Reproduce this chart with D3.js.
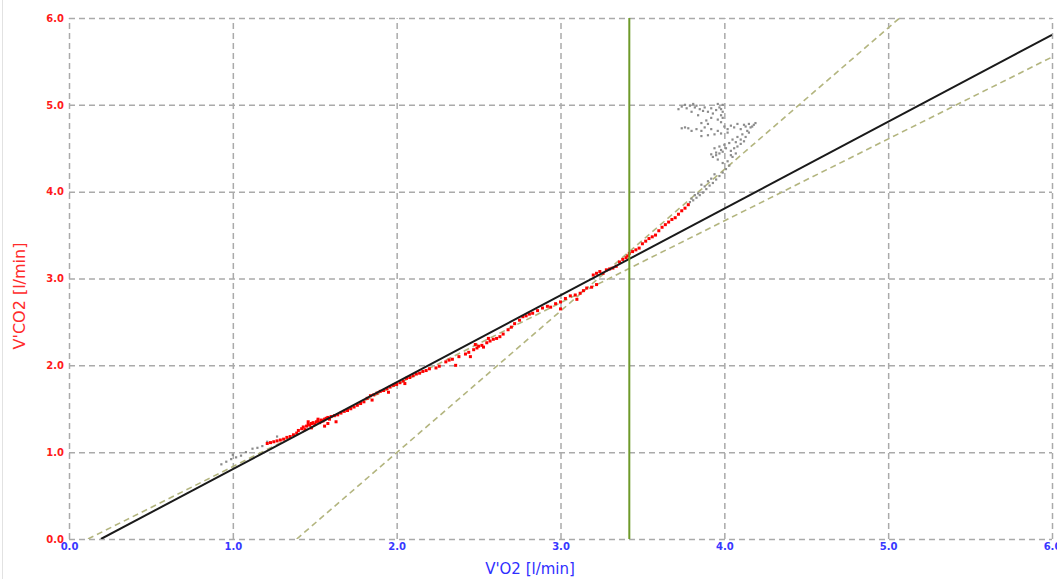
<!DOCTYPE html>
<html>
<head>
<meta charset="utf-8">
<script src="https://cdn.jsdelivr.net/npm/d3@7/dist/d3.min.js"></script>
<style>
  html, body { margin: 0; padding: 0; background: #fff; }
  svg { display: block; }
</style>
</head>
<body>
<svg id="chart" width="1057" height="579"></svg>
<script>
// ---------- DATA ----------
const xTicks = [0, 1, 2, 3, 4, 5, 6];
const yTicks = [0, 1, 2, 3, 4, 5, 6];
const xLabel = "V'O2 [l/min]";
const yLabel = "V'CO2 [l/min]";

// measured points inside the selected range (red)
const redPoints = [
  [1.21,1.10],[1.23,1.11],[1.25,1.12],[1.27,1.13],[1.29,1.14],[1.31,1.15],[1.33,1.17],[1.35,1.18],
  [1.37,1.20],[1.39,1.22],[1.40,1.25],[1.42,1.27],[1.43,1.29],[1.44,1.26],[1.45,1.30],[1.46,1.32],
  [1.47,1.31],[1.48,1.33],[1.49,1.34],[1.50,1.32],[1.51,1.35],[1.52,1.36],[1.53,1.34],[1.54,1.37],
  [1.55,1.36],[1.56,1.38],[1.57,1.39],[1.58,1.40],[1.59,1.38],[1.60,1.41],[1.62,1.42],[1.64,1.43],
  [1.66,1.45],[1.63,1.35],[1.56,1.30],[1.48,1.28],[1.46,1.35],[1.52,1.38],[1.58,1.33],
  [1.68,1.47],[1.70,1.48],[1.72,1.50],[1.74,1.52],[1.76,1.54],[1.78,1.56],[1.80,1.58],[1.82,1.62],
  [1.84,1.65],[1.86,1.66],[1.88,1.68],[1.90,1.70],[1.92,1.71],[1.94,1.73],[1.96,1.75],[1.98,1.77],
  [2.00,1.78],[2.02,1.80],[2.04,1.82],[2.06,1.85],[2.08,1.86],[2.10,1.88],[2.12,1.90],[1.85,1.60],
  [1.95,1.69],[2.05,1.79],
  [2.14,1.91],[2.16,1.93],[2.18,1.94],[2.20,1.96],[2.24,1.97],[2.26,1.99],[2.30,2.04],[2.32,2.06],
  [2.34,2.07],[2.38,2.10],[2.42,2.13],[2.44,2.15],[2.47,2.18],[2.49,2.20],[2.50,2.22],[2.52,2.23],
  [2.53,2.21],[2.55,2.26],[2.57,2.28],[2.59,2.30],[2.61,2.31],[2.63,2.33],[2.65,2.36],[2.45,2.10],
  [2.36,2.00],[2.48,2.24],[2.56,2.31],
  [2.68,2.41],[2.70,2.44],[2.72,2.48],[2.75,2.52],[2.77,2.56],[2.79,2.57],[2.81,2.59],[2.83,2.60],
  [2.86,2.63],[2.89,2.66],[2.92,2.68],[2.94,2.67],[2.97,2.71],[3.00,2.73],[3.03,2.77],[3.06,2.80],
  [3.09,2.81],[3.12,2.83],[3.14,2.86],[3.16,2.89],[3.19,2.90],[3.22,2.93],[3.00,2.65],[3.10,2.76],
  [3.20,3.04],[3.22,3.06],[3.24,3.08],[3.26,3.06],[3.28,3.10],[3.30,3.11],[3.32,3.12],[3.34,3.14],
  [3.36,3.19],[3.38,3.22],[3.40,3.24],[3.41,3.26],[3.42,3.29],[3.44,3.31],[3.46,3.33],[3.48,3.35],
  [3.50,3.40],[3.52,3.43],[3.54,3.46],[3.56,3.48],[3.58,3.50],[3.60,3.55],[3.62,3.59],[3.64,3.62],
  [3.66,3.65],[3.68,3.68],[3.70,3.70],[3.72,3.74],[3.74,3.78],[3.76,3.81],[3.78,3.85]
];

// measured points outside the selected range (gray)
const grayPoints = [
  [0.93,0.86],[0.96,0.89],[0.99,0.92],[1.02,0.94],[1.05,0.96],[1.08,1.00],[1.12,1.04],[1.15,1.05],
  [1.18,1.07],[1.21,1.12],[1.27,1.18],[1.00,0.97],
  [3.79,3.88],[3.81,3.90],[3.83,3.93],[3.85,3.96],[3.87,3.99],[3.89,4.03],[3.91,4.07],[3.93,4.10],
  [3.95,4.14],[3.97,4.18],[3.99,4.22],[4.01,4.26],[4.03,4.30],[3.86,4.08],[3.90,4.12],[3.94,4.20],
  [3.92,4.15],[3.88,4.06],[3.84,3.98],[3.82,3.96],[3.80,3.92],
  [3.93,4.40],[3.95,4.42],[3.97,4.44],[3.99,4.46],[4.04,4.47],[4.06,4.50],[4.08,4.52],[4.10,4.55],
  [4.12,4.58],[3.94,4.50],[3.97,4.52],[4.00,4.54],[4.05,4.60],[4.08,4.63],[4.11,4.66],[3.86,4.64],
  [3.90,4.65],[3.94,4.66],[3.98,4.67],[4.02,4.68],[4.14,4.70],[4.16,4.74],[4.18,4.77],[4.19,4.79],
  [4.12,4.77],[4.08,4.78],[4.04,4.76],[4.00,4.75],[3.86,4.70],[3.88,4.74],[3.90,4.78],[3.76,4.74],
  [3.78,4.73],[3.76,5.00],[3.79,4.99],[3.82,4.97],[3.85,4.95],[3.87,4.93],[3.90,4.92],[3.93,4.90],
  [3.95,4.94],[3.97,4.97],[3.99,5.00],[3.98,4.88],[3.99,4.92],[3.80,4.92],[3.84,4.88],[3.72,4.95],
  [3.74,4.98],[3.77,4.96],[3.81,5.01],[3.83,4.99],[3.88,4.97],[3.92,4.96],[3.96,5.01],[3.98,4.95],
  [3.99,4.85],[3.98,4.80],[3.96,4.83],[3.92,4.85],[3.89,4.82],[3.86,4.79],[3.83,4.72],[3.80,4.70],
  [3.74,4.73],[3.92,4.72],[3.96,4.70],[4.02,4.72],[4.06,4.74],[4.10,4.72],[4.13,4.75],[4.15,4.78],
  [4.17,4.75],[4.15,4.68],[4.13,4.63],[4.10,4.60],[4.07,4.57],[4.03,4.56],[4.01,4.50],[3.98,4.48],
  [3.95,4.45],[3.92,4.43],[3.96,4.37],[3.99,4.33],[4.02,4.35],[4.05,4.40],[4.07,4.44],[4.04,4.42]
];

// regression lines, as [[x1,y1],[x2,y2]]
const mainFit   = [[0.195, 0.0], [6.0, 5.806]];
const lowerFit  = [[0.116, 0.0], [6.0, 5.55]];
const upperFit  = [[1.39, 0.0], [5.07, 6.0]];
// vertical threshold (VO2 at breakpoint)
const thresholdX = [3.42];

// ---------- LAYOUT ----------
const svg = d3.select("#chart");
const W = 1057, H = 579;
const m = { left: 69, right: 5, top: 18, bottom: 40 };
const iw = W - m.left - m.right;
const ih = H - m.top - m.bottom;

const x = d3.scaleLinear().domain([0, 6]).range([m.left, m.left + iw]);
const y = d3.scaleLinear().domain([0, 6]).range([m.top + ih, m.top]);

svg.append("rect").attr("width", W).attr("height", H).attr("fill", "#fff");
// faint outer frame at left
svg.append("line").attr("x1", 2.5).attr("x2", 2.5).attr("y1", 0).attr("y2", H)
  .attr("stroke", "#e2e2e2").attr("stroke-width", 1);

const fmt = d3.format(".1f");

// X axis with grid
const gx = svg.append("g")
  .attr("transform", `translate(0,${m.top + ih})`)
  .call(d3.axisBottom(x).tickValues(xTicks).tickFormat(fmt).tickSize(-ih).tickPadding(4));
gx.select(".domain").remove();
gx.selectAll(".tick line")
  .attr("stroke", "#aaaaaa").attr("stroke-width", 1.5).attr("stroke-dasharray", "6,4");
gx.selectAll(".tick text")
  .attr("fill", "#3838ff").style("font-family", "DejaVu Sans, sans-serif")
  .style("font-size", "10px").style("font-weight", "bold");

// Y axis with grid
const gy = svg.append("g")
  .attr("transform", `translate(${m.left},0)`)
  .call(d3.axisLeft(y).tickValues(yTicks).tickFormat(fmt).tickSize(-iw).tickPadding(5));
gy.select(".domain").remove();
gy.selectAll(".tick line")
  .attr("stroke", "#aaaaaa").attr("stroke-width", 1.5).attr("stroke-dasharray", "6,4");
gy.selectAll(".tick text")
  .attr("fill", "#ff1a1a").style("font-family", "DejaVu Sans, sans-serif")
  .style("font-size", "10px").style("font-weight", "bold");

// clip
svg.append("clipPath").attr("id", "clip")
  .append("rect").attr("x", m.left).attr("y", m.top).attr("width", iw).attr("height", ih);
const plot = svg.append("g").attr("clip-path", "url(#clip)");

const line = d3.line().x(d => x(d[0])).y(d => y(d[1]));

// dashed fits
[lowerFit, upperFit].forEach(seg => {
  plot.append("path").attr("d", line(seg))
    .attr("fill", "none").attr("stroke", "#b3b57f").attr("stroke-width", 1.6)
    .attr("stroke-dasharray", "6,4");
});

// gray points
plot.selectAll(".gp").data(grayPoints).enter().append("rect")
  .attr("class", "gp")
  .attr("x", d => x(d[0]) - 1.1).attr("y", d => y(d[1]) - 1.1)
  .attr("width", 2.2).attr("height", 2.2).attr("fill", "#8c8c8c");

// red points
plot.selectAll(".rp").data(redPoints).enter().append("rect")
  .attr("class", "rp")
  .attr("x", d => x(d[0]) - 1.5).attr("y", d => y(d[1]) - 1.5)
  .attr("width", 3).attr("height", 3).attr("fill", "#ff0000");

// main fit
plot.append("path").attr("d", line(mainFit))
  .attr("fill", "none").attr("stroke", "#1a1a1a").attr("stroke-width", 2);

// threshold line
plot.selectAll(".thr").data(thresholdX).enter().append("line")
  .attr("x1", d => x(d)).attr("x2", d => x(d))
  .attr("y1", y(6)).attr("y2", y(0))
  .attr("stroke", "#6e9a2a").attr("stroke-width", 2);

// axis titles
svg.append("text")
  .attr("x", 530).attr("y", 574)
  .attr("text-anchor", "middle")
  .attr("fill", "#2f2fff")
  .style("font-family", "DejaVu Sans, sans-serif").style("font-size", "15px")
  .text(xLabel);

svg.append("text")
  .attr("transform", `translate(25,296) rotate(-90)`)
  .attr("text-anchor", "middle")
  .attr("fill", "#ff2a2a")
  .style("font-family", "DejaVu Sans, sans-serif").style("font-size", "16px")
  .text(yLabel);
</script>
</body>
</html>
